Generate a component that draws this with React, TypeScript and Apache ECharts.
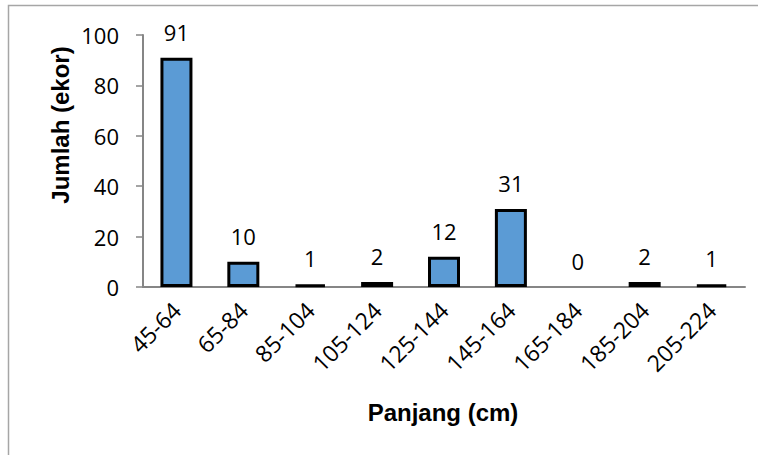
import React, { useEffect, useRef } from "react";
import * as echarts from "echarts";

const categories = ["45-64", "65-84", "85-104", "105-124", "125-144", "145-164", "165-184", "185-204", "205-224"];
const counts = [91, 10, 1, 2, 12, 31, 0, 2, 1];
const yTicks = { min: 0, max: 100, interval: 20 };
const xTitle = "Panjang (cm)";
const yTitle = "Jumlah (ekor)";

const numFont = "'Open Sans', sans-serif";
const titleFont = "'Liberation Sans', Arial, sans-serif";

export default function App() {
  const ref = useRef<HTMLDivElement>(null);

  useEffect(() => {
    if (!ref.current) return;
    const chart = echarts.init(ref.current, undefined, { renderer: "svg" });
    chart.setOption({
      animation: false,
      backgroundColor: "#ffffff",
      grid: { left: 143, right: 13, top: 35, bottom: 168 },
      xAxis: {
        type: "category",
        data: categories,
        axisLine: { lineStyle: { color: "#868686", width: 2 } },
        axisTick: { show: false },
        axisLabel: {
          rotate: 45,
          margin: 19,
          color: "#000",
          fontSize: 23,
          fontFamily: numFont,
          interval: 0,
        },
      },
      yAxis: {
        type: "value",
        min: yTicks.min,
        max: yTicks.max,
        interval: yTicks.interval,
        splitLine: { show: false },
        axisLine: { show: true, lineStyle: { color: "#868686", width: 2 } },
        axisTick: { show: true, length: 7, lineStyle: { color: "#868686", width: 1.5 } },
        axisLabel: { margin: 24, color: "#000", fontSize: 22, fontFamily: numFont },
      },
      series: [
        {
          type: "bar",
          barWidth: 32,
          data: counts.map((v) => ({
            value: v,
            itemStyle: { borderWidth: v === 0 ? 0 : 3 },
          })),
          itemStyle: { color: "#5B9BD5", borderColor: "#000", borderWidth: 3 },
          label: {
            show: true,
            position: "top",
            distance: 15,
            color: "#000",
            fontSize: 22,
            fontFamily: numFont,
          },
        },
      ],
      graphic: [
        {
          type: "rect",
          shape: { x: 8.5, y: 5.5, width: 800, height: 500 },
          style: { fill: "none", stroke: "#A6A6A6", lineWidth: 1.5 },
          silent: true,
        },
        {
          type: "text",
          x: 443,
          y: 412,
          style: {
            text: xTitle,
            align: "center",
            verticalAlign: "middle",
            font: `bold 24px ${titleFont}`,
            fill: "#000",
          },
        },
        {
          type: "text",
          x: 60,
          y: 125,
          rotation: Math.PI / 2,
          style: {
            text: yTitle,
            align: "center",
            verticalAlign: "middle",
            font: `bold 24px ${titleFont}`,
            fill: "#000",
          },
        },
      ],
    });
    return () => chart.dispose();
  }, []);

  return <div ref={ref} style={{ width: 758, height: 455, position: "absolute", left: 0, top: 0 }} />;
}
